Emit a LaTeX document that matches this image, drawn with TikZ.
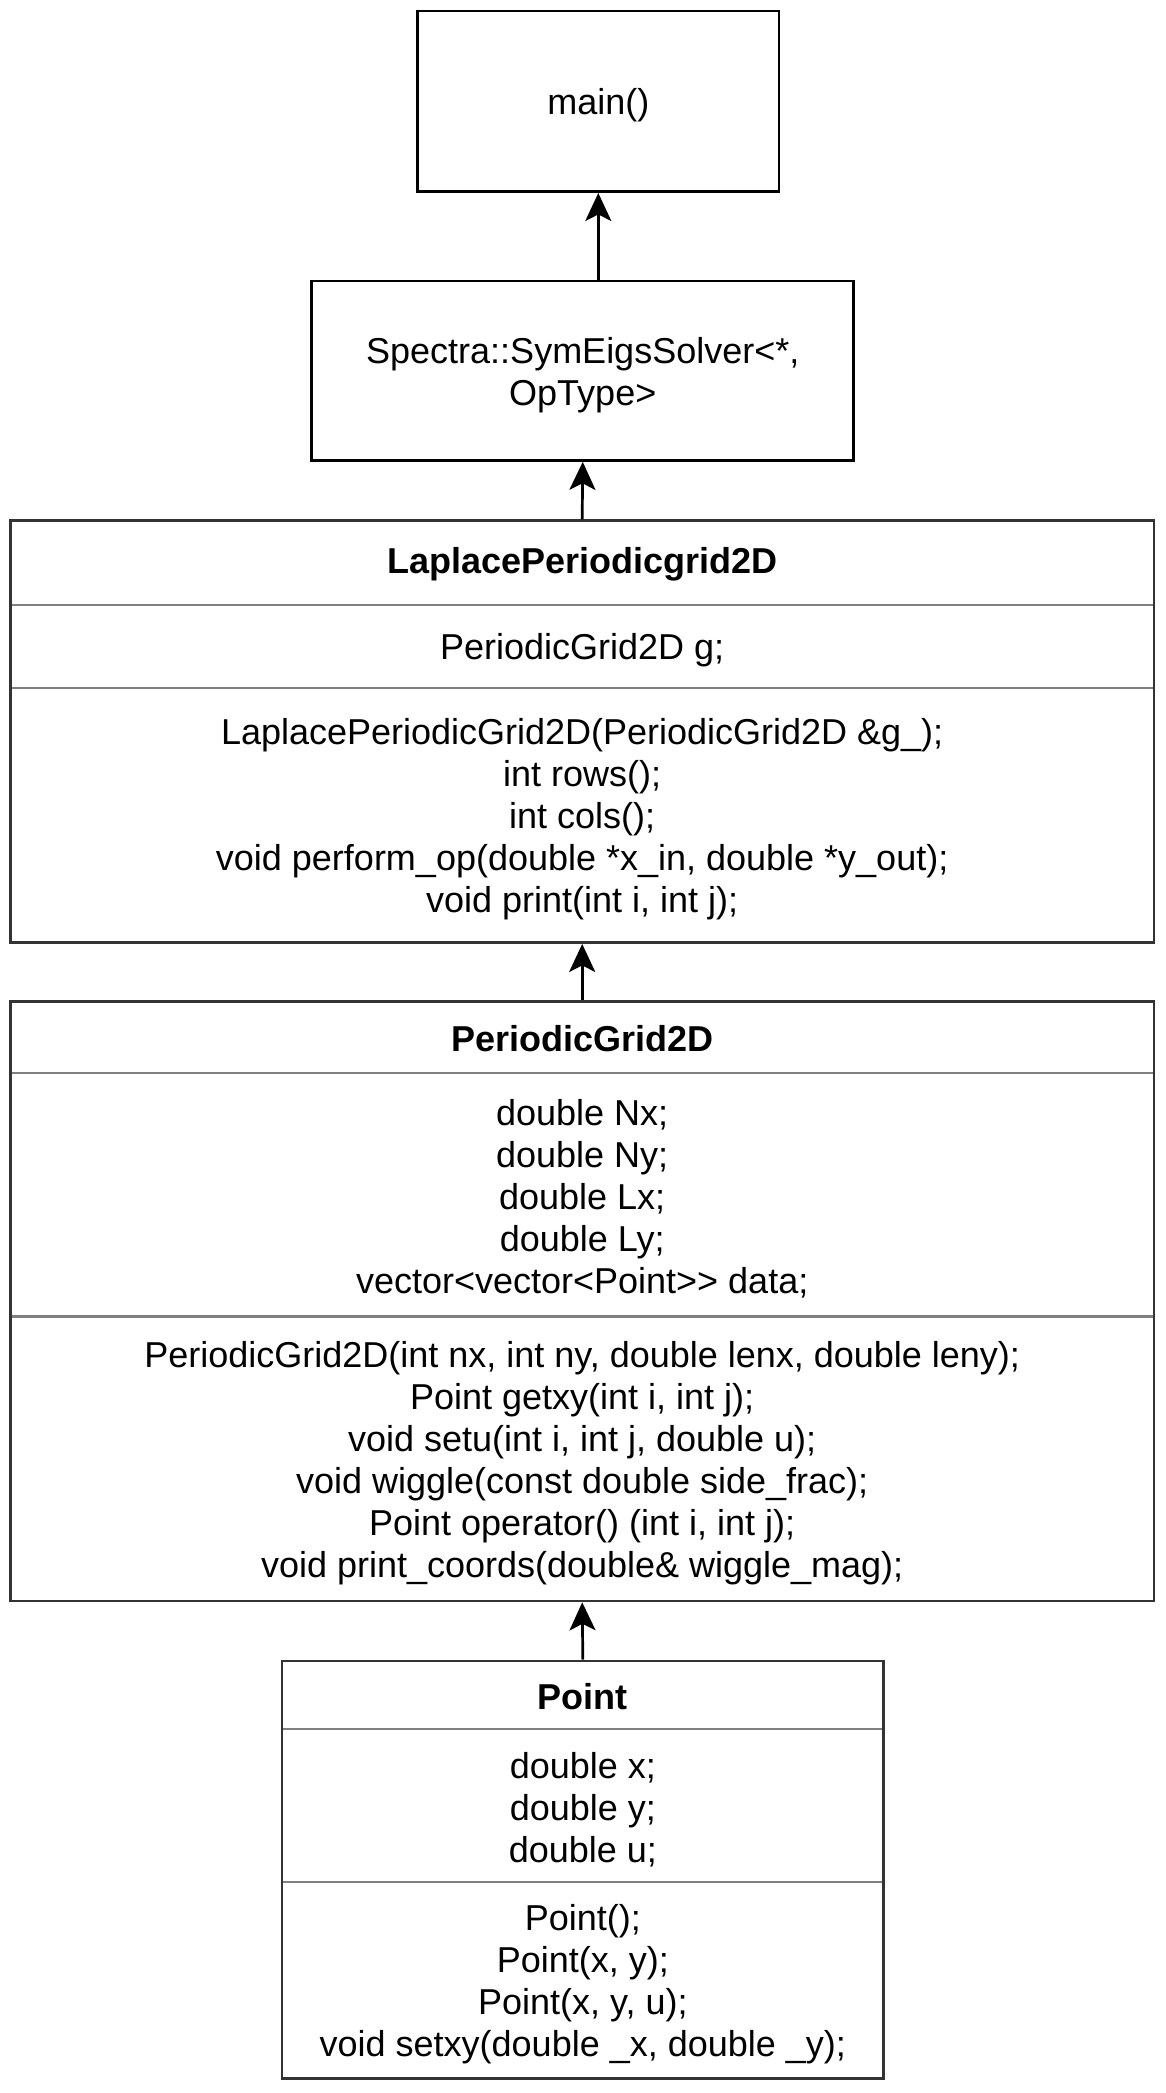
\documentclass[tikz,border=0pt]{standalone}
\usepackage{fontspec}
\setmainfont{Liberation Sans}
\usetikzlibrary{arrows.meta}
\begin{document}
\begin{tikzpicture}[x=0.5pt,y=-0.5pt,
 box/.style={draw=black, line width=1.35pt, inner sep=0pt},
 cls/.style={draw=black!80, line width=1.35pt, inner sep=0pt},
 txt/.style={align=center, font=\fontsize{18pt}{21pt}\selectfont, inner sep=0pt, yshift=-2pt},
 ttl/.style={align=center, font=\fontsize{18pt}{21pt}\selectfont\bfseries, inner sep=0pt, yshift=-0.7pt},
 sep/.style={draw=black!50, line width=1.1pt},
 arr/.style={-{Stealth[length=14pt,width=13pt,inset=3.3pt]}, line width=1.35pt}]
\useasboundingbox (0,0) rectangle (1166,2093);

% main and Spectra
\node[box, minimum width=180.7pt, minimum height=90.35pt] (main) at (598.3,101.3) {};
\node[txt] (mainT) at (598.3,101.3) {main()};
\node[box, minimum width=271pt, minimum height=89.75pt] (spec) at (582.75,370.75) {};
\node[txt] (specT) at (582.75,370.75) {Spectra::SymEigsSolver<*,\\OpType>};

% LaplacePeriodicgrid2D
\draw[sep] (10.4,605) -- (1154,605);
\draw[sep] (10.4,688) -- (1154,688);
\node[cls, minimum width=571.8pt, minimum height=210.95pt] (lap) at (582.2,731.65) {};
\node[ttl] (lapT) at (582.2,563) {LaplacePeriodicgrid2D};
\node[txt] (lapA) at (582.2,646.5) {PeriodicGrid2D g;};
\node[txt] (lapM) at (582.2,815) {LaplacePeriodicGrid2D(PeriodicGrid2D \&g\_);\\int rows();\\int cols();\\void perform\_op(double *x\_in, double *y\_out);\\void print(int i, int j);};

% PeriodicGrid2D
\draw[sep] (10.4,1072.6) -- (1154,1072.6);
\draw[sep] (10.4,1316.5) -- (1154,1316.5);
\node[cls, minimum width=571.8pt, minimum height=299.85pt] (pg) at (582.2,1301.15) {};
\node[ttl] (pgT) at (582.2,1037) {PeriodicGrid2D};
\node[txt] (pgA) at (582.2,1194.5) {double Nx;\\double Ny;\\double Lx;\\double Ly;\\vector<vector<Point>{}> data;};
\node[txt] (pgM) at (582.2,1459) {PeriodicGrid2D(int nx, int ny, double lenx, double leny);\\Point getxy(int i, int j);\\void setu(int i, int j, double u);\\void wiggle(const double side\_frac);\\Point operator() (int i, int j);\\void print\_coords(double\& wiggle\_mag);};

% Point
\draw[sep] (282,1729.3) -- (883.7,1729.3);
\draw[sep] (282,1882) -- (883.7,1882);
\node[cls, minimum width=300.85pt, minimum height=208.8pt] (pt) at (582.85,1869.8) {};
\node[ttl] (ptT) at (582.85,1695) {Point};
\node[txt] (ptA) at (582.85,1805.5) {double x;\\double y;\\double u;};
\node[txt] (ptM) at (582.85,1980) {Point();\\Point(x, y);\\Point(x, y, u);\\void setxy(double \_x, double \_y);};

% connectors
\draw[arr] (spec.north -| main.south) -- (main.south);
\draw[arr] (lap.north) -- (spec.south);
\draw[arr] (pg.north) -- (lap.south);
\draw[arr] (pt.north) -- (pg.south);
\end{tikzpicture}
\end{document}
